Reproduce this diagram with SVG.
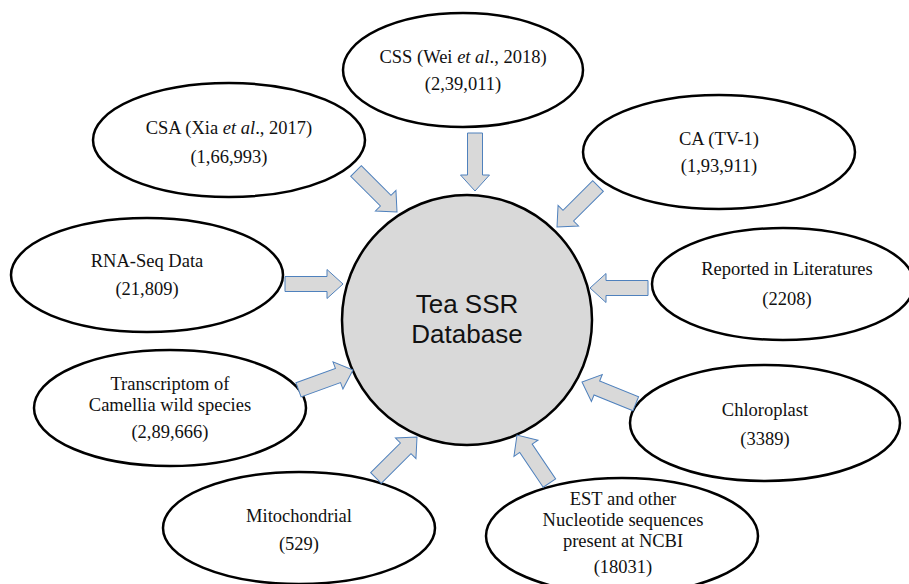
<svg xmlns="http://www.w3.org/2000/svg" width="909" height="584" viewBox="0 0 909 584">
<style>
.src{fill:#ffffff;stroke:#000000;stroke-width:2.5}
.hub{fill:#d9d9d9;stroke:#000000;stroke-width:2.5}
.lbl{font-family:"Liberation Serif","Times New Roman",serif;font-size:18.5px;fill:#111111;text-anchor:middle}
.hubt{font-family:"Liberation Sans",Arial,sans-serif;font-size:26px;fill:#111111;text-anchor:middle}
.arr{fill:#d9d9d9;stroke:#4f81bd;stroke-width:1}
</style>
<defs>
<path id="blk" d="M -58,-7.5 L -16,-7.5 L -16,-14.5 L 0,0 L -16,14.5 L -16,7.5 L -58,7.5 Z"/>
</defs>
<rect width="909" height="584" fill="#ffffff"/>
<g id="css"><ellipse class="src" cx="463" cy="70" rx="120" ry="57"/>
<text class="lbl" x="463" y="63">CSS (Wei <tspan font-style="italic">et al</tspan>., 2018)</text>
<text class="lbl" x="463" y="90">(2,39,011)</text></g>
<g id="csa"><ellipse class="src" cx="229" cy="140" rx="136" ry="57"/>
<text class="lbl" x="229" y="134">CSA (Xia <tspan font-style="italic">et al</tspan>., 2017)</text>
<text class="lbl" x="229" y="163">(1,66,993)</text></g>
<g id="ca"><ellipse class="src" cx="719" cy="152" rx="136" ry="57"/>
<text class="lbl" x="719" y="145">CA (TV-1)</text>
<text class="lbl" x="719" y="172">(1,93,911)</text></g>
<g id="rna"><ellipse class="src" cx="147" cy="275" rx="136" ry="57"/>
<text class="lbl" x="147" y="267">RNA-Seq Data</text>
<text class="lbl" x="147" y="295">(21,809)</text></g>
<g id="lit"><ellipse class="src" cx="783" cy="284" rx="131" ry="56"/>
<text class="lbl" x="787" y="275">Reported in Literatures</text>
<text class="lbl" x="787" y="305">(2208)</text></g>
<g id="wild"><ellipse class="src" cx="170" cy="408" rx="136" ry="58"/>
<text class="lbl" x="170" y="390">Transcriptom of</text>
<text class="lbl" x="170" y="411">Camellia wild species</text>
<text class="lbl" x="170" y="438">(2,89,666)</text></g>
<g id="chl"><ellipse class="src" cx="765" cy="423" rx="135" ry="58"/>
<text class="lbl" x="765" y="416">Chloroplast</text>
<text class="lbl" x="765" y="445">(3389)</text></g>
<g id="mito"><ellipse class="src" cx="299" cy="528" rx="136" ry="56"/>
<text class="lbl" x="299" y="522">Mitochondrial</text>
<text class="lbl" x="299" y="550">(529)</text></g>
<g id="est"><ellipse class="src" cx="622" cy="536" rx="136" ry="58"/>
<text class="lbl" x="623" y="505">EST and other</text>
<text class="lbl" x="623" y="526">Nucleotide sequences</text>
<text class="lbl" x="623" y="547">present at NCBI</text>
<text class="lbl" x="623" y="573">(18031)</text></g>
<g id="hub"><circle class="hub" cx="467" cy="320" r="125"/>
<text class="hubt" x="467" y="313">Tea SSR</text>
<text class="hubt" x="467" y="343">Database</text></g>
<g id="connectors">
<use href="#blk" class="arr" transform="translate(475,191) rotate(90)"/>
<use href="#blk" class="arr" transform="translate(397,212) rotate(45)"/>
<use href="#blk" class="arr" transform="translate(557,227) rotate(135)"/>
<use href="#blk" class="arr" transform="translate(343,284) rotate(0)"/>
<use href="#blk" class="arr" transform="translate(590,288) rotate(180)"/>
<use href="#blk" class="arr" transform="translate(353,370) rotate(-20)"/>
<use href="#blk" class="arr" transform="translate(582,382) rotate(202)"/>
<use href="#blk" class="arr" transform="translate(417,437) rotate(-45)"/>
<use href="#blk" class="arr" transform="translate(517,435) rotate(-124)"/>
</g>
</svg>
